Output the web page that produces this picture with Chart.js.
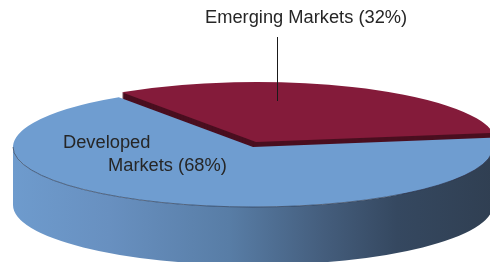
<!DOCTYPE html>
<html>
<head>
<meta charset="utf-8">
<script src="https://cdn.jsdelivr.net/npm/chart.js@4/dist/chart.umd.min.js"></script>
<style>
  html, body { margin: 0; padding: 0; background: #fff; }
  canvas { display: block; }
</style>
</head>
<body>
<canvas id="pie" width="490" height="262"></canvas>
<script>
// data
const categories = ["Developed Markets", "Emerging Markets"];
const shares = [68, 32];
const sliceColors = ["#6F9DD0", "#841B3A"];
const sliceSideColors = ["#5C84B3", "#4A0F20"];

// 3d view of the pie (screen px)
const CX = 253, CY = 147;   // centre of the top face
const RX = 240, RY = 60;    // radii of the top face ellipse
const DEPTH = 58;           // height of the side wall
const LIFT = [3, -5];       // how far the small slice is pulled out

const pie3d = {
  id: "pie3d",
  beforeDatasetsDraw(chart) {
    const ctx = chart.ctx;
    const arcs = chart.getDatasetMeta(0).data;
    const R = arcs[0].outerRadius;
    const ox = arcs[0].x, oy = arcs[0].y;
    const sx = RX / R, sy = RY / R;

    // put the chart's own pie into the flattened view
    const view = (dx, dy, fn) => {
      ctx.save();
      ctx.translate(CX + dx, CY + dy);
      ctx.scale(sx, sy);
      ctx.translate(-ox, -oy);
      fn();
      ctx.restore();
    };
    const recolor = (arc, color) => {
      const g = Object.assign(Object.create(Object.getPrototypeOf(arc)), arc);
      g.options = Object.assign({}, arc.options, { backgroundColor: color, borderWidth: 0 });
      return g;
    };

    // back slice (emerging): wall first, then its top
    const back = arcs[1];
    const backWall = recolor(back, sliceSideColors[1]);
    for (let k = DEPTH; k >= 1; k--) {
      view(LIFT[0], LIFT[1] + k, () => backWall.draw(ctx));
    }
    view(LIFT[0], LIFT[1], () => back.draw(ctx));

    // front slice (developed): curved wall on the near half
    const front = arcs[0];
    const a0 = Math.max(front.startAngle, 0);
    const a1 = Math.min(front.endAngle, Math.PI);
    view(0, 0, () => {
      const d = DEPTH / sy;
      const grad = ctx.createLinearGradient(ox - R, 0, ox + R, 0);
      grad.addColorStop(0, "#6E9BCD");
      grad.addColorStop(0.2, "#6890C0");
      grad.addColorStop(0.45, "#587DA6");
      grad.addColorStop(0.65, "#445D7C");
      grad.addColorStop(0.8, "#354860");
      grad.addColorStop(1, "#303F52");
      ctx.beginPath();
      ctx.arc(ox, oy, R, a0, a1);
      ctx.arc(ox, oy + d, R, a1, a0, true);
      ctx.closePath();
      ctx.fillStyle = grad;
      ctx.fill();
    });
    view(0, 0, () => {
      front.draw(ctx);
      // thin rim where the top meets the wall
      ctx.beginPath();
      ctx.arc(ox, oy, R, a0, a1);
      ctx.save();
      ctx.setTransform(1, 0, 0, 1, 0, 0);
      ctx.strokeStyle = "rgba(35,45,65,0.75)";
      ctx.lineWidth = 0.8;
      ctx.stroke();
      ctx.restore();
    });
    return false;
  },
  afterDraw(chart) {
    const ctx = chart.ctx;
    ctx.save();
    ctx.fillStyle = "#262626";
    ctx.font = '18.3px "Liberation Sans", Arial, sans-serif';
    ctx.textBaseline = "alphabetic";
    ctx.textAlign = "left";
    // emerging label with leader line
    ctx.fillText(categories[1] + " (" + shares[1] + "%)", 205, 23);
    ctx.strokeStyle = "#1a1a1a";
    ctx.lineWidth = 1;
    ctx.beginPath();
    ctx.moveTo(277.5, 37);
    ctx.lineTo(277.5, 101);
    ctx.stroke();
    // developed label, two lines
    const words = categories[0].split(" ");
    ctx.fillText(words[0], 63, 148);
    ctx.fillText(words[1] + " (" + shares[0] + "%)", 108, 171);
    ctx.restore();
  }
};

new Chart(document.getElementById("pie"), {
  type: "pie",
  data: {
    labels: categories,
    datasets: [{
      data: shares,
      backgroundColor: sliceColors,
      borderWidth: 0
    }]
  },
  options: {
    responsive: false,
    animation: false,
    rotation: 81.2,
    layout: { padding: 0 },
    plugins: {
      legend: { display: false },
      tooltip: { enabled: false }
    }
  },
  plugins: [pie3d]
});
</script>
</body>
</html>
